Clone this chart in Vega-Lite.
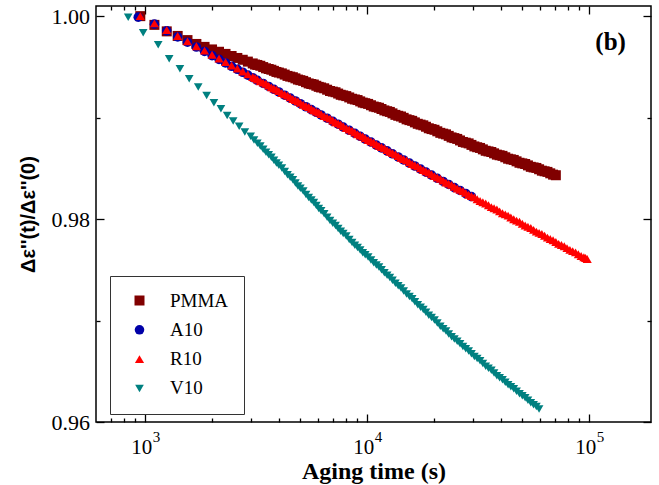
{
  "$schema": "https://vega.github.io/schema/vega-lite/v6.json",
  "width": 555,
  "height": 416,
  "autosize": {"type": "none"},
  "padding": {"left": 96, "top": 6, "right": 8, "bottom": 63},
  "background": "white",
  "config": {
    "view": {"stroke": "black", "strokeWidth": 1.5},
    "axis": {"domain": false, "grid": false, "tickColor": "black", "tickWidth": 1.3, "labelColor": "black", "titleColor": "black", "labelFont": "Liberation Serif"}
  },
  "datasets": {
    "pts": [
      {"s":"PMMA","t":950,"v":1.0000},{"s":"PMMA","t":1100,"v":0.99914},{"s":"PMMA","t":1250,"v":0.99850},{"s":"PMMA","t":1400,"v":0.99805},{"s":"PMMA","t":1550,"v":0.99764},{"s":"PMMA","t":1700,"v":0.99726},{"s":"PMMA","t":1850,"v":0.99697},{"s":"PMMA","t":2000,"v":0.99672},{"s":"PMMA","t":2150,"v":0.99649},{"s":"PMMA","t":2300,"v":0.99628},{"s":"PMMA","t":2450,"v":0.99607},{"s":"PMMA","t":2600,"v":0.99588},{"s":"PMMA","t":2750,"v":0.99570},{"s":"PMMA","t":2900,"v":0.99552},{"s":"PMMA","t":3050,"v":0.99534},{"s":"PMMA","t":3200,"v":0.99519},{"s":"PMMA","t":3400,"v":0.99498},{"s":"PMMA","t":3600,"v":0.99479},{"s":"PMMA","t":3800,"v":0.99461},{"s":"PMMA","t":4000,"v":0.99444},{"s":"PMMA","t":4250,"v":0.99424},{"s":"PMMA","t":4500,"v":0.99404},{"s":"PMMA","t":4750,"v":0.99387},{"s":"PMMA","t":5000,"v":0.99369},{"s":"PMMA","t":5300,"v":0.99349},{"s":"PMMA","t":5600,"v":0.99331},{"s":"PMMA","t":5900,"v":0.99314},{"s":"PMMA","t":6200,"v":0.99297},{"s":"PMMA","t":6600,"v":0.99275},{"s":"PMMA","t":7000,"v":0.99256},{"s":"PMMA","t":7400,"v":0.99237},{"s":"PMMA","t":7800,"v":0.99219},{"s":"PMMA","t":8300,"v":0.99199},{"s":"PMMA","t":8800,"v":0.99179},{"s":"PMMA","t":9300,"v":0.99160},{"s":"PMMA","t":9800,"v":0.99142},{"s":"PMMA","t":10400,"v":0.99122},{"s":"PMMA","t":11000,"v":0.99103},{"s":"PMMA","t":11600,"v":0.99085},{"s":"PMMA","t":12300,"v":0.99063},{"s":"PMMA","t":13000,"v":0.99042},{"s":"PMMA","t":13800,"v":0.99018},{"s":"PMMA","t":14600,"v":0.98998},{"s":"PMMA","t":15500,"v":0.98975},{"s":"PMMA","t":16400,"v":0.98953},{"s":"PMMA","t":17400,"v":0.98931},{"s":"PMMA","t":18400,"v":0.98910},{"s":"PMMA","t":19500,"v":0.98887},{"s":"PMMA","t":20700,"v":0.98865},{"s":"PMMA","t":22000,"v":0.98842},{"s":"PMMA","t":23300,"v":0.98820},{"s":"PMMA","t":24700,"v":0.98798},{"s":"PMMA","t":26200,"v":0.98775},{"s":"PMMA","t":27800,"v":0.98753},{"s":"PMMA","t":29500,"v":0.98731},{"s":"PMMA","t":31300,"v":0.98708},{"s":"PMMA","t":33200,"v":0.98687},{"s":"PMMA","t":35200,"v":0.98667},{"s":"PMMA","t":37300,"v":0.98648},{"s":"PMMA","t":39500,"v":0.98629},{"s":"PMMA","t":41900,"v":0.98609},{"s":"PMMA","t":44400,"v":0.98589},{"s":"PMMA","t":47100,"v":0.98569},{"s":"PMMA","t":50000,"v":0.98549},{"s":"PMMA","t":53000,"v":0.98529},{"s":"PMMA","t":56200,"v":0.98509},{"s":"PMMA","t":59500,"v":0.98491},{"s":"PMMA","t":63000,"v":0.98471},{"s":"PMMA","t":66800,"v":0.98451},{"s":"PMMA","t":70800,"v":0.98432},
      {"s":"PMMA","t":3125,"v":0.99523},{"s":"PMMA","t":3300,"v":0.99511},{"s":"PMMA","t":3500,"v":0.99486},{"s":"PMMA","t":3700,"v":0.99472},{"s":"PMMA","t":3900,"v":0.99450},{"s":"PMMA","t":4125,"v":0.99436},{"s":"PMMA","t":4375,"v":0.99411},{"s":"PMMA","t":4625,"v":0.99398},{"s":"PMMA","t":4875,"v":0.99375},{"s":"PMMA","t":5150,"v":0.99362},{"s":"PMMA","t":5450,"v":0.99337},{"s":"PMMA","t":5750,"v":0.99326},{"s":"PMMA","t":6050,"v":0.99303},{"s":"PMMA","t":6400,"v":0.99289},{"s":"PMMA","t":6800,"v":0.99262},{"s":"PMMA","t":7200,"v":0.99250},{"s":"PMMA","t":7600,"v":0.99225},{"s":"PMMA","t":8050,"v":0.99212},{"s":"PMMA","t":8550,"v":0.99186},{"s":"PMMA","t":9050,"v":0.99173},{"s":"PMMA","t":9550,"v":0.99148},{"s":"PMMA","t":10100,"v":0.99135},{"s":"PMMA","t":10700,"v":0.99109},{"s":"PMMA","t":11300,"v":0.99097},{"s":"PMMA","t":11950,"v":0.99071},{"s":"PMMA","t":12650,"v":0.99056},{"s":"PMMA","t":13400,"v":0.99027},{"s":"PMMA","t":14200,"v":0.99011},{"s":"PMMA","t":15050,"v":0.98983},{"s":"PMMA","t":15950,"v":0.98968},{"s":"PMMA","t":16900,"v":0.98939},{"s":"PMMA","t":17900,"v":0.98924},{"s":"PMMA","t":18950,"v":0.98895},{"s":"PMMA","t":20100,"v":0.98880},{"s":"PMMA","t":21350,"v":0.98850},{"s":"PMMA","t":22650,"v":0.98835},{"s":"PMMA","t":24000,"v":0.98805},{"s":"PMMA","t":25450,"v":0.98790},{"s":"PMMA","t":27000,"v":0.98760},{"s":"PMMA","t":28650,"v":0.98746},{"s":"PMMA","t":30400,"v":0.98716},{"s":"PMMA","t":32250,"v":0.98701},{"s":"PMMA","t":34200,"v":0.98673},{"s":"PMMA","t":36250,"v":0.98661},{"s":"PMMA","t":38400,"v":0.98635},{"s":"PMMA","t":40700,"v":0.98623},{"s":"PMMA","t":43150,"v":0.98595},{"s":"PMMA","t":45750,"v":0.98583},{"s":"PMMA","t":48550,"v":0.98555},{"s":"PMMA","t":51500,"v":0.98543},{"s":"PMMA","t":54600,"v":0.98515},{"s":"PMMA","t":57850,"v":0.98504},{"s":"PMMA","t":61250,"v":0.98477},{"s":"PMMA","t":64900,"v":0.98465},{"s":"PMMA","t":68800,"v":0.98438},
      {"s":"A10","t":930,"v":0.99990},{"s":"A10","t":1100,"v":0.99921},{"s":"A10","t":1250,"v":0.99855},{"s":"A10","t":1400,"v":0.99796},{"s":"A10","t":1550,"v":0.99743},{"s":"A10","t":1700,"v":0.99696},{"s":"A10","t":1850,"v":0.99652},{"s":"A10","t":2000,"v":0.99611},{"s":"A10","t":2150,"v":0.99574},{"s":"A10","t":2300,"v":0.99539},{"s":"A10","t":2450,"v":0.99506},{"s":"A10","t":2600,"v":0.99476},{"s":"A10","t":2750,"v":0.99447},{"s":"A10","t":2900,"v":0.99419},{"s":"A10","t":3050,"v":0.99393},{"s":"A10","t":3200,"v":0.99368},{"s":"A10","t":3400,"v":0.99337},{"s":"A10","t":3600,"v":0.99307},{"s":"A10","t":3800,"v":0.99279},{"s":"A10","t":4000,"v":0.99253},{"s":"A10","t":4250,"v":0.99221},{"s":"A10","t":4500,"v":0.99192},{"s":"A10","t":4750,"v":0.99164},{"s":"A10","t":5000,"v":0.99137},{"s":"A10","t":5300,"v":0.99107},{"s":"A10","t":5600,"v":0.99079},{"s":"A10","t":5900,"v":0.99052},{"s":"A10","t":6200,"v":0.99026},{"s":"A10","t":6600,"v":0.98994},{"s":"A10","t":7000,"v":0.98963},{"s":"A10","t":7400,"v":0.98935},{"s":"A10","t":7800,"v":0.98907},{"s":"A10","t":8300,"v":0.98875},{"s":"A10","t":8800,"v":0.98845},{"s":"A10","t":9300,"v":0.98816},{"s":"A10","t":9800,"v":0.98789},{"s":"A10","t":10400,"v":0.98759},{"s":"A10","t":11000,"v":0.98729},{"s":"A10","t":11600,"v":0.98702},{"s":"A10","t":12300,"v":0.98672},{"s":"A10","t":13000,"v":0.98643},{"s":"A10","t":13800,"v":0.98612},{"s":"A10","t":14600,"v":0.98583},{"s":"A10","t":15500,"v":0.98552},{"s":"A10","t":16400,"v":0.98523},{"s":"A10","t":17400,"v":0.98492},{"s":"A10","t":18400,"v":0.98463},{"s":"A10","t":19500,"v":0.98433},{"s":"A10","t":20700,"v":0.98402},{"s":"A10","t":22000,"v":0.98371},{"s":"A10","t":23300,"v":0.98341},{"s":"A10","t":24700,"v":0.98311},{"s":"A10","t":26200,"v":0.98282},{"s":"A10","t":27800,"v":0.98252},{"s":"A10","t":29500,"v":0.98222},
      {"s":"R10","t":950,"v":1.0000},{"s":"R10","t":1100,"v":0.99929},{"s":"R10","t":1250,"v":0.99863},{"s":"R10","t":1400,"v":0.99804},{"s":"R10","t":1550,"v":0.99751},{"s":"R10","t":1700,"v":0.99704},{"s":"R10","t":1850,"v":0.99660},{"s":"R10","t":2000,"v":0.99619},{"s":"R10","t":2150,"v":0.99582},{"s":"R10","t":2300,"v":0.99547},{"s":"R10","t":2450,"v":0.99514},{"s":"R10","t":2600,"v":0.99484},{"s":"R10","t":2750,"v":0.99455},{"s":"R10","t":2900,"v":0.99427},{"s":"R10","t":3050,"v":0.99401},{"s":"R10","t":3200,"v":0.99376},{"s":"R10","t":3400,"v":0.99345},{"s":"R10","t":3600,"v":0.99315},{"s":"R10","t":3800,"v":0.99287},{"s":"R10","t":4000,"v":0.99261},{"s":"R10","t":4250,"v":0.99229},{"s":"R10","t":4500,"v":0.99200},{"s":"R10","t":4750,"v":0.99172},{"s":"R10","t":5000,"v":0.99145},{"s":"R10","t":5300,"v":0.99115},{"s":"R10","t":5600,"v":0.99087},{"s":"R10","t":5900,"v":0.99060},{"s":"R10","t":6200,"v":0.99034},{"s":"R10","t":6600,"v":0.99002},{"s":"R10","t":7000,"v":0.98971},{"s":"R10","t":7400,"v":0.98943},{"s":"R10","t":7800,"v":0.98915},{"s":"R10","t":8300,"v":0.98883},{"s":"R10","t":8800,"v":0.98853},{"s":"R10","t":9300,"v":0.98824},{"s":"R10","t":9800,"v":0.98797},{"s":"R10","t":10400,"v":0.98767},{"s":"R10","t":11000,"v":0.98737},{"s":"R10","t":11600,"v":0.98710},{"s":"R10","t":12300,"v":0.98680},{"s":"R10","t":13000,"v":0.98651},{"s":"R10","t":13800,"v":0.98620},{"s":"R10","t":14600,"v":0.98591},{"s":"R10","t":15500,"v":0.98560},{"s":"R10","t":16400,"v":0.98531},{"s":"R10","t":17400,"v":0.98500},{"s":"R10","t":18400,"v":0.98471},{"s":"R10","t":19500,"v":0.98441},{"s":"R10","t":20700,"v":0.98410},{"s":"R10","t":22000,"v":0.98379},{"s":"R10","t":23300,"v":0.98349},{"s":"R10","t":24700,"v":0.98319},{"s":"R10","t":26200,"v":0.98288},{"s":"R10","t":27800,"v":0.98258},{"s":"R10","t":29500,"v":0.98227},{"s":"R10","t":31300,"v":0.98196},{"s":"R10","t":33200,"v":0.98166},{"s":"R10","t":35200,"v":0.98136},{"s":"R10","t":37300,"v":0.98106},{"s":"R10","t":39500,"v":0.98076},{"s":"R10","t":41900,"v":0.98046},{"s":"R10","t":44400,"v":0.98016},{"s":"R10","t":47100,"v":0.97985},{"s":"R10","t":50000,"v":0.97954},{"s":"R10","t":53000,"v":0.97924},{"s":"R10","t":56200,"v":0.97894},{"s":"R10","t":59500,"v":0.97864},{"s":"R10","t":63000,"v":0.97835},{"s":"R10","t":66800,"v":0.97804},{"s":"R10","t":70800,"v":0.97774},{"s":"R10","t":75000,"v":0.97744},{"s":"R10","t":79500,"v":0.97714},{"s":"R10","t":84300,"v":0.97684},{"s":"R10","t":89400,"v":0.97653},{"s":"R10","t":94700,"v":0.97624},{"s":"R10","t":98000,"v":0.97606},
      {"s":"R10","t":3125,"v":0.99391},{"s":"R10","t":3300,"v":0.99358},{"s":"R10","t":3500,"v":0.99333},{"s":"R10","t":3700,"v":0.99298},{"s":"R10","t":3900,"v":0.99277},{"s":"R10","t":4125,"v":0.99242},{"s":"R10","t":4375,"v":0.99218},{"s":"R10","t":4625,"v":0.99183},{"s":"R10","t":4875,"v":0.99162},{"s":"R10","t":5150,"v":0.99127},{"s":"R10","t":5450,"v":0.99104},{"s":"R10","t":5750,"v":0.99071},{"s":"R10","t":6050,"v":0.99050},{"s":"R10","t":6400,"v":0.99015},{"s":"R10","t":6800,"v":0.98990},{"s":"R10","t":7200,"v":0.98954},{"s":"R10","t":7600,"v":0.98932},{"s":"R10","t":8050,"v":0.98896},{"s":"R10","t":8550,"v":0.98871},{"s":"R10","t":9050,"v":0.98836},{"s":"R10","t":9550,"v":0.98814},{"s":"R10","t":10100,"v":0.98779},{"s":"R10","t":10700,"v":0.98755},{"s":"R10","t":11300,"v":0.98721},{"s":"R10","t":11950,"v":0.98698},{"s":"R10","t":12650,"v":0.98663},{"s":"R10","t":13400,"v":0.98639},{"s":"R10","t":14200,"v":0.98603},{"s":"R10","t":15050,"v":0.98579},{"s":"R10","t":15950,"v":0.98543},{"s":"R10","t":16900,"v":0.98519},{"s":"R10","t":17900,"v":0.98483},{"s":"R10","t":18950,"v":0.98459},{"s":"R10","t":20100,"v":0.98423},{"s":"R10","t":21350,"v":0.98398},{"s":"R10","t":22650,"v":0.98361},{"s":"R10","t":24000,"v":0.98337},{"s":"R10","t":25450,"v":0.98301},{"s":"R10","t":27000,"v":0.98276},{"s":"R10","t":28650,"v":0.98240},{"s":"R10","t":30400,"v":0.98215},{"s":"R10","t":32250,"v":0.98178},{"s":"R10","t":34200,"v":0.98154},{"s":"R10","t":36250,"v":0.98118},{"s":"R10","t":38400,"v":0.98094},{"s":"R10","t":40700,"v":0.98058},{"s":"R10","t":43150,"v":0.98034},{"s":"R10","t":45750,"v":0.97998},{"s":"R10","t":48550,"v":0.97973},{"s":"R10","t":51500,"v":0.97936},{"s":"R10","t":54600,"v":0.97912},{"s":"R10","t":57850,"v":0.97876},{"s":"R10","t":61250,"v":0.97853},{"s":"R10","t":64900,"v":0.97817},{"s":"R10","t":68800,"v":0.97792},{"s":"R10","t":72900,"v":0.97756},{"s":"R10","t":77250,"v":0.97732},{"s":"R10","t":81900,"v":0.97696},{"s":"R10","t":86850,"v":0.97672},{"s":"R10","t":92050,"v":0.97636},{"s":"R10","t":96350,"v":0.97617},
      {"s":"V10","t":838,"v":0.99990},{"s":"V10","t":979,"v":0.99837},{"s":"V10","t":1144,"v":0.99718},{"s":"V10","t":1282,"v":0.99581},{"s":"V10","t":1433,"v":0.99482},{"s":"V10","t":1578,"v":0.99384},{"s":"V10","t":1733,"v":0.99301},{"s":"V10","t":1891,"v":0.99219},{"s":"V10","t":2039,"v":0.99147},{"s":"V10","t":2193,"v":0.99088},{"s":"V10","t":2340,"v":0.99022},{"s":"V10","t":2490,"v":0.98966},{"s":"V10","t":2650,"v":0.98914},{"s":"V10","t":2810,"v":0.98858},{"s":"V10","t":2985,"v":0.98816},{"s":"V10","t":3200,"v":0.98748},{"s":"V10","t":3400,"v":0.98689},{"s":"V10","t":3600,"v":0.98633},{"s":"V10","t":3800,"v":0.98579},{"s":"V10","t":4000,"v":0.98531},{"s":"V10","t":4250,"v":0.98469},{"s":"V10","t":4500,"v":0.98411},{"s":"V10","t":4750,"v":0.98356},{"s":"V10","t":5000,"v":0.98303},{"s":"V10","t":5300,"v":0.98243},{"s":"V10","t":5600,"v":0.98187},{"s":"V10","t":5900,"v":0.98133},{"s":"V10","t":6200,"v":0.98082},{"s":"V10","t":6600,"v":0.98018},{"s":"V10","t":7000,"v":0.97960},{"s":"V10","t":7400,"v":0.97907},{"s":"V10","t":7800,"v":0.97858},{"s":"V10","t":8300,"v":0.97799},{"s":"V10","t":8800,"v":0.97742},{"s":"V10","t":9300,"v":0.97694},{"s":"V10","t":9800,"v":0.97648},{"s":"V10","t":10400,"v":0.97597},{"s":"V10","t":11000,"v":0.97547},{"s":"V10","t":11600,"v":0.97501},{"s":"V10","t":12300,"v":0.97447},{"s":"V10","t":13000,"v":0.97397},{"s":"V10","t":13800,"v":0.97343},{"s":"V10","t":14600,"v":0.97292},{"s":"V10","t":15500,"v":0.97237},{"s":"V10","t":16400,"v":0.97186},{"s":"V10","t":17400,"v":0.97132},{"s":"V10","t":18400,"v":0.97082},{"s":"V10","t":19500,"v":0.97029},{"s":"V10","t":20700,"v":0.96975},{"s":"V10","t":22000,"v":0.96919},{"s":"V10","t":23300,"v":0.96867},{"s":"V10","t":24700,"v":0.96818},{"s":"V10","t":26200,"v":0.96770},{"s":"V10","t":27800,"v":0.96721},{"s":"V10","t":29500,"v":0.96673},{"s":"V10","t":31300,"v":0.96625},{"s":"V10","t":33200,"v":0.96577},{"s":"V10","t":35200,"v":0.96529},{"s":"V10","t":37300,"v":0.96482},{"s":"V10","t":39500,"v":0.96436},{"s":"V10","t":41900,"v":0.96391},{"s":"V10","t":44400,"v":0.96347},{"s":"V10","t":47100,"v":0.96303},{"s":"V10","t":50000,"v":0.96258},{"s":"V10","t":53000,"v":0.96214},{"s":"V10","t":56200,"v":0.96171},{"s":"V10","t":59500,"v":0.96128},
      {"s":"V10","t":3090,"v":0.98780},{"s":"V10","t":3300,"v":0.98721},{"s":"V10","t":3500,"v":0.98658},{"s":"V10","t":3700,"v":0.98609},{"s":"V10","t":3900,"v":0.98552},{"s":"V10","t":4125,"v":0.98503},{"s":"V10","t":4375,"v":0.98437},{"s":"V10","t":4625,"v":0.98387},{"s":"V10","t":4875,"v":0.98327},{"s":"V10","t":5150,"v":0.98276},{"s":"V10","t":5450,"v":0.98212},{"s":"V10","t":5750,"v":0.98163},{"s":"V10","t":6050,"v":0.98105},{"s":"V10","t":6400,"v":0.98053},{"s":"V10","t":6800,"v":0.97986},{"s":"V10","t":7200,"v":0.97937},{"s":"V10","t":7600,"v":0.97880},{"s":"V10","t":8050,"v":0.97832},{"s":"V10","t":8550,"v":0.97768},{"s":"V10","t":9050,"v":0.97721},{"s":"V10","t":9550,"v":0.97668},{"s":"V10","t":10100,"v":0.97626},{"s":"V10","t":10700,"v":0.97569},{"s":"V10","t":11300,"v":0.97527},{"s":"V10","t":11950,"v":0.97471},{"s":"V10","t":12650,"v":0.97425},{"s":"V10","t":13400,"v":0.97367},{"s":"V10","t":14200,"v":0.97321},{"s":"V10","t":15050,"v":0.97262},{"s":"V10","t":15950,"v":0.97215},{"s":"V10","t":16900,"v":0.97156},{"s":"V10","t":17900,"v":0.97110},{"s":"V10","t":18950,"v":0.97053},{"s":"V10","t":20100,"v":0.97005},{"s":"V10","t":21350,"v":0.96944},{"s":"V10","t":22650,"v":0.96896},{"s":"V10","t":24000,"v":0.96840},{"s":"V10","t":25450,"v":0.96797},{"s":"V10","t":27000,"v":0.96743},{"s":"V10","t":28650,"v":0.96700},{"s":"V10","t":30400,"v":0.96646},{"s":"V10","t":32250,"v":0.96604},{"s":"V10","t":34200,"v":0.96550},{"s":"V10","t":36250,"v":0.96509},{"s":"V10","t":38400,"v":0.96456},{"s":"V10","t":40700,"v":0.96417},{"s":"V10","t":43150,"v":0.96366},{"s":"V10","t":45750,"v":0.96328},{"s":"V10","t":48550,"v":0.96278},{"s":"V10","t":51500,"v":0.96239},{"s":"V10","t":54600,"v":0.96190},{"s":"V10","t":57850,"v":0.96152}
    ],
    "note": [{"t":125000,"v":0.99741,"label":"(b)"}]
  },
  "resolve": {"axis": {"x": "independent", "y": "independent"}},
  "layer": [
    {
      "data": {"name": "pts"},
      "mark": {"type": "point", "filled": true, "opacity": 1, "strokeWidth": 0},
      "encoding": {
        "x": {"field": "t", "type": "quantitative",
              "scale": {"type": "log", "domain": [600, 190000], "nice": false},
              "axis": {"orient": "bottom", "title": "Aging time (s)", "titleFont": "Liberation Serif", "titleFontWeight": "bold", "titleFontSize": 24, "titlePadding": -2,
                       "values": [700,800,900,1000,2000,3000,4000,5000,6000,7000,8000,9000,10000,20000,30000,40000,50000,60000,70000,80000,90000,100000],
                       "tickSize": {"condition": {"test": "abs(log(datum.value)/LN10 - round(log(datum.value)/LN10)) < 0.001", "value": -8}, "value": -4},
                       "labelExpr": "abs(log(datum.value)/LN10 - round(log(datum.value)/LN10)) < 0.001 ? '10' : ''",
                       "labelFontSize": 21, "labelPadding": 22, "labelOffset": -4, "labelFlush": false, "labelOverlap": false}},
        "y": {"field": "v", "type": "quantitative",
              "scale": {"domain": [0.96, 1.001], "zero": false, "nice": false},
              "axis": {"orient": "left", "title": "Δε''(t)/Δε''(0)", "titleFont": "Liberation Sans", "titleFontWeight": "bold", "titleFontSize": 20, "titlePadding": 13,
                       "values": [0.96, 0.97, 0.98, 0.99, 1.0],
                       "tickSize": {"condition": {"test": "round(datum.value*100) % 2 == 0", "value": -8}, "value": -4},
                       "labelExpr": "round(datum.value*100) % 2 == 0 ? format(datum.value, '.2f') : ''",
                       "labelFontSize": 22, "labelPadding": 14.5, "labelFlush": false, "labelOverlap": false}},
        "color": {"field": "s", "type": "nominal",
                  "scale": {"domain": ["PMMA", "A10", "R10", "V10"], "range": ["#800000", "#0000A8", "#FF0000", "#008080"]},
                  "legend": {"title": null, "orient": "none", "legendX": 14, "legendY": 270, "padding": 15, "strokeColor": "#333333", "fillColor": "white",
                             "labelFont": "Liberation Serif", "labelFontSize": 19, "labelColor": "black", "symbolSize": 70, "symbolOffset": 5, "labelOffset": 21, "rowPadding": 9.3, "symbolStrokeWidth": 0}},
        "shape": {"field": "s", "type": "nominal",
                  "scale": {"domain": ["PMMA", "A10", "R10", "V10"], "range": ["square", "circle", "triangle-up", "triangle-down"]}},
        "size": {"field": "s", "type": "nominal", "legend": null,
                 "scale": {"domain": ["PMMA", "A10", "R10", "V10"], "range": [100, 75, 135, 115]}}
      }
    },
    {
      "data": {"name": "pts"},
      "mark": {"type": "point", "opacity": 0},
      "encoding": {
        "x": {"field": "t", "type": "quantitative",
              "scale": {"type": "log", "domain": [600, 190000], "nice": false},
              "axis": {"orient": "top", "title": null, "labels": false,
                       "values": [700,800,900,1000,2000,3000,4000,5000,6000,7000,8000,9000,10000,20000,30000,40000,50000,60000,70000,80000,90000,100000],
                       "tickSize": {"condition": {"test": "abs(log(datum.value)/LN10 - round(log(datum.value)/LN10)) < 0.001", "value": -8}, "value": -4}}},
        "y": {"field": "v", "type": "quantitative",
              "scale": {"domain": [0.96, 1.001], "zero": false, "nice": false},
              "axis": {"orient": "right", "title": null, "labels": false,
                       "values": [0.96, 0.97, 0.98, 0.99, 1.0],
                       "tickSize": {"condition": {"test": "round(datum.value*100) % 2 == 0", "value": -8}, "value": -4}}}
      }
    },
    {
      "data": {"name": "pts"},
      "mark": {"type": "point", "opacity": 0},
      "encoding": {
        "x": {"field": "t", "type": "quantitative",
              "scale": {"type": "log", "domain": [600, 190000], "nice": false},
              "axis": {"orient": "bottom", "title": null, "ticks": false,
                       "values": [1000, 10000, 100000],
                       "labelExpr": "format(round(log(datum.value)/LN10), 'd')",
                       "labelFontSize": 15, "labelAlign": "left", "labelOffset": 7, "labelPadding": 7, "labelFlush": false, "labelOverlap": false}},
        "y": {"field": "v", "type": "quantitative", "axis": null,
              "scale": {"domain": [0.96, 1.001], "zero": false, "nice": false}}
      }
    },
    {
      "data": {"name": "note"},
      "mark": {"type": "text", "font": "Liberation Serif", "fontWeight": "bold", "fontSize": 25, "align": "center", "baseline": "middle", "color": "black"},
      "encoding": {
        "x": {"field": "t", "type": "quantitative", "axis": null, "scale": {"type": "log", "domain": [600, 190000], "nice": false}},
        "y": {"field": "v", "type": "quantitative", "axis": null, "scale": {"domain": [0.96, 1.001], "zero": false, "nice": false}},
        "text": {"field": "label"}
      }
    }
  ]
}
